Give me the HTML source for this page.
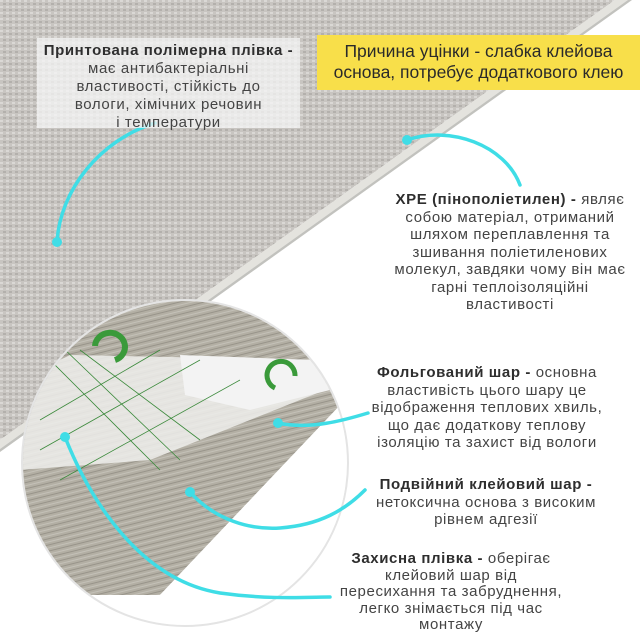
<!DOCTYPE html>
<html><head><meta charset="utf-8"><style>
body{margin:0;width:640px;height:640px;overflow:hidden;background:#fff;font-family:"Liberation Sans","DejaVu Sans",sans-serif;color:#444}
.t{position:absolute;text-align:center;font-size:15px;letter-spacing:.6px;line-height:17.5px;white-space:nowrap}
b{color:#2e2e2e}
</style></head><body>
<svg width="640" height="640" style="position:absolute;left:0;top:0">
<defs>
<pattern id="fab" width="6" height="6" patternUnits="userSpaceOnUse">
<rect width="6" height="6" fill="#c8c5c1"/>
<rect x="0" y="0" width="3" height="2" fill="#dad8d5"/>
<rect x="3" y="3" width="3" height="2" fill="#b3b0ac"/>
</pattern>
<pattern id="wood" width="40" height="6" patternUnits="userSpaceOnUse" patternTransform="rotate(-14)">
<rect width="40" height="6" fill="#b3afa4"/>
<rect y="0" width="40" height="1" fill="#98948a"/>
<rect y="3" width="40" height="1" fill="#c4c1b8"/>
</pattern>
<clipPath id="c"><circle cx="185" cy="463" r="162"/></clipPath>
</defs>
<polygon points="0,0 615,0 0,440" fill="url(#fab)"/>
<polygon points="615,0 628,0 0,449 0,440" fill="#e4e3de"/>
<polygon points="628,0 632,0 0,452 0,449" fill="#9a9993" opacity=".6"/>
<circle cx="185" cy="463" r="163" fill="#fff" stroke="#e4e4e4" stroke-width="2"/>
<g clip-path="url(#c)">
<polygon points="20,300 345,300 345,400 160,595 20,595" fill="url(#wood)"/>
<polygon points="20,380 70,355 315,360 330,388 250,420 150,460 20,470" fill="#eeeeec" opacity=".85"/>
<polygon points="180,355 315,360 330,390 250,410 185,395" fill="#f3f3f3"/>
<path d="M40,350 L160,470 M60,345 L180,460 M80,350 L200,440 M40,420 L160,350 M40,450 L200,360 M60,480 L240,380" stroke="#3c8a3c" stroke-width=".8" fill="none"/>
<path d="M95,346 a15,14 0 1,1 20,14" stroke="#3a9a3a" stroke-width="6" fill="none"/>
<path d="M275,388 a14,14 0 1,1 20,-12" stroke="#3a9a3a" stroke-width="5" fill="none"/>
<polygon points="345,400 160,595 345,640" fill="#fff"/>
</g>
<g stroke="#3fdde6" stroke-width="3.5" fill="none" stroke-linecap="round">
<path d="M155,123 C100,140 60,190 57,242"/>
<path d="M407,140 C450,125 505,145 520,185"/>
<path d="M278,423 C310,430 345,420 368,413"/>
<path d="M190,492 C215,520 250,530 280,528 C320,525 345,510 365,490"/>
<path d="M65,437 C90,500 140,580 220,593 C270,600 310,597 330,597"/>
</g>
<g fill="#3fdde6"><circle cx="57" cy="242" r="5"/><circle cx="407" cy="140" r="5"/><circle cx="278" cy="423" r="5"/><circle cx="190" cy="492" r="5"/><circle cx="65" cy="437" r="5"/></g>
</svg>
<div style="position:absolute;left:37px;top:38px;width:263px;height:90px;background:rgba(245,245,245,.75)"></div>
<div class="t" style="left:37px;width:263px;top:42px;line-height:18px"><b>Принтована полімерна плівка -</b><br>має антибактеріальні<br>властивості, стійкість до<br>вологи, хімічних речовин<br>і температури</div>
<div style="position:absolute;left:317px;top:35px;width:323px;height:55px;background:#f8df4a"></div>
<div class="t" style="left:317px;width:323px;top:41px;font-size:17.5px;letter-spacing:0;line-height:21px;color:#2a2a2a">Причина уцінки - слабка клейова<br>основа, потребує додаткового клею</div>
<div class="t" style="left:380px;width:260px;top:191px"><b>XPE (пінополіетилен) -</b> являє<br>собою матеріал, отриманий<br>шляхом переплавлення та<br>зшивання поліетиленових<br>молекул, завдяки чому він має<br>гарні теплоізоляційні<br>властивості</div>
<div class="t" style="left:360px;width:254px;top:364px"><b>Фольгований шар -</b> основна<br>властивість цього шару це<br>відображення теплових хвиль,<br>що дає додаткову теплову<br>ізоляцію та захист від вологи</div>
<div class="t" style="left:366px;width:240px;top:476px"><b>Подвійний клейовий шар -</b><br>нетоксична основа з високим<br>рівнем адгезії</div>
<div class="t" style="left:331px;width:240px;top:551px;line-height:16.5px"><b>Захисна плівка -</b> оберігає<br>клейовий шар від<br>пересихання та забруднення,<br>легко знімається під час<br>монтажу</div>
</body></html>
